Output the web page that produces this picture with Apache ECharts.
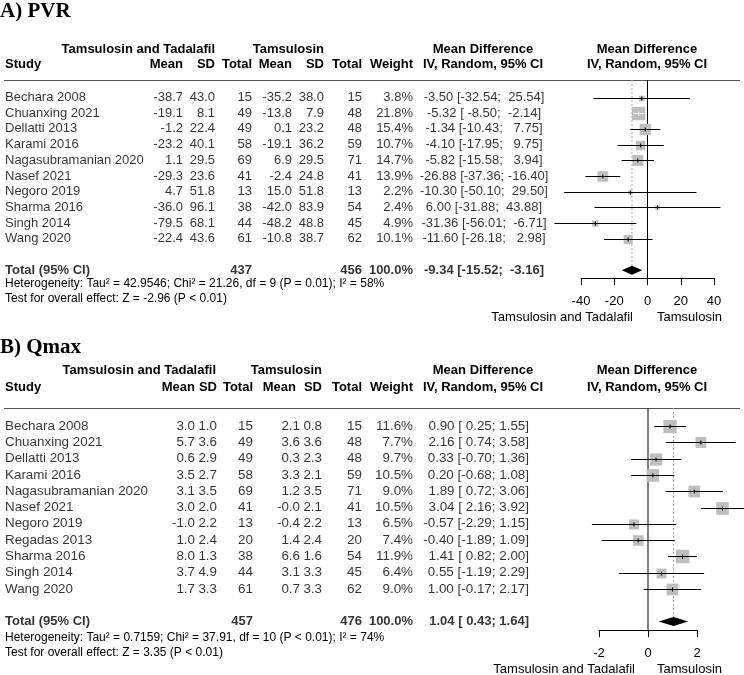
<!DOCTYPE html>
<html><head><meta charset="utf-8">
<script src="https://cdn.jsdelivr.net/npm/echarts/dist/echarts.min.js"></script>
<style>html,body{margin:0;padding:0;background:#fff}#c{width:744px;height:675px}</style>
</head><body><div id="c"></div>
<script>
// ---------- Panel A: PVR ----------
const pvrStudies = ["Bechara 2008","Chuanxing 2021","Dellatti 2013","Karami 2016","Nagasubramanian 2020","Nasef 2021","Negoro 2019","Sharma 2016","Singh 2014","Wang 2020"];
const pvrMeanT = [-38.7,-19.1,-1.2,-23.2,1.1,-29.3,4.7,-36.0,-79.5,-22.4];
const pvrSdT   = [43.0,8.1,22.4,40.1,29.5,23.6,51.8,96.1,68.1,43.6];
const pvrNT    = [15,49,49,58,69,41,13,38,44,61];
const pvrMeanC = [-35.2,-13.8,0.1,-19.1,6.9,-2.4,15.0,-42.0,-48.2,-10.8];
const pvrSdC   = [38.0,7.9,23.2,36.2,29.5,24.8,51.8,83.9,48.8,38.7];
const pvrNC    = [15,48,48,59,71,41,13,54,45,62];
const pvrWeight= [3.8,21.8,15.4,10.7,14.7,13.9,2.2,2.4,4.9,10.1];
const pvrMD    = [-3.50,-5.32,-1.34,-4.10,-5.82,-26.88,-10.30,6.00,-31.36,-11.60];
const pvrLo    = [-32.54,-8.50,-10.43,-17.95,-15.58,-37.36,-50.10,-31.88,-56.01,-26.18];
const pvrHi    = [25.54,-2.14,7.75,9.75,3.94,-16.40,29.50,43.88,-6.71,2.98];
const pvrPooled = [-9.34,-15.52,-3.16];
const pvrTotals = [437,456];
const pvrTicks = [-40,-20,0,20,40];
const pvrHet = "Heterogeneity: Tau\u00B2 = 42.9546; Chi\u00B2 = 21.26, df = 9 (P = 0.01); I\u00B2 = 58%";
const pvrTest = "Test for overall effect: Z = -2.96 (P < 0.01)";

// ---------- Panel B: Qmax ----------
const qmaxStudies = ["Bechara 2008","Chuanxing 2021","Dellatti 2013","Karami 2016","Nagasubramanian 2020","Nasef 2021","Negoro 2019","Regadas 2013","Sharma 2016","Singh 2014","Wang 2020"];
const qmaxMeanT = [3.0,5.7,0.6,3.5,3.1,3.0,-1.0,1.0,8.0,3.7,1.7];
const qmaxSdT   = [1.0,3.6,2.9,2.7,3.5,2.0,2.2,2.4,1.3,4.9,3.3];
const qmaxNT    = [15,49,49,58,69,41,13,20,38,44,61];
const qmaxMeanC = [2.1,3.6,0.3,3.3,1.2,-0.0,-0.4,1.4,6.6,3.1,0.7];
const qmaxSdC   = [0.8,3.6,2.3,2.1,3.5,2.1,2.2,2.4,1.6,3.3,3.3];
const qmaxNC    = [15,48,48,59,71,41,13,20,54,45,62];
const qmaxWeight= [11.6,7.7,9.7,10.5,9.0,10.5,6.5,7.4,11.9,6.4,9.0];
const qmaxMD    = [0.90,2.16,0.33,0.20,1.89,3.04,-0.57,-0.40,1.41,0.55,1.00];
const qmaxLo    = [0.25,0.74,-0.70,-0.68,0.72,2.16,-2.29,-1.89,0.82,-1.19,-0.17];
const qmaxHi    = [1.55,3.58,1.36,1.08,3.06,3.92,1.15,1.09,2.00,2.29,2.17];
const qmaxPooled = [1.04,0.43,1.64];
const qmaxTotals = [457,476];
const qmaxTicks = [-2,0,2];
const qmaxHet = "Heterogeneity: Tau\u00B2 = 0.7159; Chi\u00B2 = 37.91, df = 10 (P < 0.01); I\u00B2 = 74%";
const qmaxTest = "Test for overall effect: Z = 3.35 (P < 0.01)";

const FONT = '"Liberation Sans", Arial, Helvetica, sans-serif';
const SERIF = '"Liberation Serif", "Times New Roman", serif';

const panels = [
  {title:"A) PVR", studies:pvrStudies, mT:pvrMeanT, sT:pvrSdT, nT:pvrNT, mC:pvrMeanC, sC:pvrSdC, nC:pvrNC, w:pvrWeight, md:pvrMD, lo:pvrLo, hi:pvrHi, pooled:pvrPooled, totals:pvrTotals, ticks:pvrTicks, het:pvrHet, test:pvrTest,
   titleY:12, h1Y:49, h2Y:64, ruleY:80, row0:97.5, step:15.7, totalIdx:11, axisY:278, hetY:284, testY:299, axTitleY:317,
   fx0:581, fx1:714, cols:[183,215,252,292,324,362,413], hdrCols:[183,215,252,292,324,362,413], grpT:215, grpC:324,
   ciX:484, ciAlign:'center', sqMax:13.4, labL:633, labR:657, rowFont:13},
  {title:"B) Qmax", studies:qmaxStudies, mT:qmaxMeanT, sT:qmaxSdT, nT:qmaxNT, mC:qmaxMeanC, sC:qmaxSdC, nC:qmaxNC, w:qmaxWeight, md:qmaxMD, lo:qmaxLo, hi:qmaxHi, pooled:qmaxPooled, totals:qmaxTotals, ticks:qmaxTicks, het:qmaxHet, test:qmaxTest,
   titleY:348, h1Y:370, h2Y:387, ruleY:408, row0:426, step:16.3, totalIdx:12, axisY:630, hetY:638, testY:653, axTitleY:669,
   fx0:599, fx1:697, cols:[195,217,253,300,322,362,413], hdrCols:[195,217,253,296,322,362,413], grpT:216, grpC:322,
   ciX:529, ciAlign:'right', sqMax:13.5, labL:635, labR:657, rowFont:13.4}
];

function f1(v){ return Object.is(v,-0) ? "-0.0" : v.toFixed(1); }
function padTo(arr){ const s = arr.map(v=>v.toFixed(2)); const m = Math.max(...s.map(x=>x.length)); return s.map(x=>x.padStart(m,' ')); }
function ciStrings(md, lo, hi, pooled){
  const L = padTo(lo.concat([pooled[1]])), H = padTo(hi.concat([pooled[2]]));
  const all = md.concat([pooled[0]]);
  return all.map((m,i)=> m.toFixed(2) + " [" + L[i] + "; " + H[i] + "]");
}

const grids=[], xAxes=[], yAxes=[], series=[], graphics=[];

function gtext(x,y,text,align,font){
  graphics.push({type:'text', silent:true, style:{text, x, y, align, verticalAlign:'middle', textAlign:align, textVerticalAlign:'middle', font, fill:'#000'}});
}
function textSeries(gi, x, ys, texts, align, bold, fs){
  series.push({type:'scatter', xAxisIndex:gi, yAxisIndex:gi, symbolSize:0, silent:true, animation:false, clip:false, z:5,
    data: texts.map((t,i)=>({name:String(t), value:[x, ys[i]]})),
    label:{show:true, position:'inside', formatter:p=>p.name, align, verticalAlign:'middle', color:'#000', fontSize:fs, fontFamily:FONT, fontWeight: bold?'bold':'normal'},
    emphasis:{disabled:true}});
}

panels.forEach((p,k)=>{
  const gT = 2*k, gF = 2*k+1;
  const yMin = (p.ruleY - p.row0)/p.step, yMax = (p.axisY - p.row0)/p.step;
  const h = p.axisY - p.ruleY;
  const fs = p.rowFont;
  grids.push({left:0, width:744, top:p.ruleY, height:h, outerBoundsMode:'none'});
  grids.push({left:p.fx0, width:p.fx1-p.fx0, top:p.ruleY, height:h, outerBoundsMode:'none'});
  xAxes.push({gridIndex:gT, type:'value', min:0, max:744, show:false});
  yAxes.push({gridIndex:gT, type:'value', min:yMin, max:yMax, inverse:true, show:false});
  const tk = p.ticks;
  xAxes.push({gridIndex:gF, type:'value', min:tk[0], max:tk[tk.length-1], interval:tk[1]-tk[0], position:'bottom',
    axisLine:{show:true, onZero:false, lineStyle:{color:'#000', width:1}},
    axisTick:{show:true, inside:false, length:7, lineStyle:{color:'#000', width:1}},
    axisLabel:{show:true, color:'#000', fontSize:13, fontFamily:FONT, margin:17, showMinLabel:true, showMaxLabel:true},
    splitLine:{show:false}});
  yAxes.push({gridIndex:gF, type:'value', min:yMin, max:yMax, inverse:true, show:false});

  const n = p.studies.length;
  const rows = p.studies.map((_,i)=>i);
  textSeries(gT, 5, rows, p.studies, 'left', false, fs);
  textSeries(gT, p.cols[0], rows, p.mT.map(f1), 'right', false, fs);
  textSeries(gT, p.cols[1], rows, p.sT.map(f1), 'right', false, fs);
  textSeries(gT, p.cols[2], rows, p.nT.map(String), 'right', false, fs);
  textSeries(gT, p.cols[3], rows, p.mC.map(f1), 'right', false, fs);
  textSeries(gT, p.cols[4], rows, p.sC.map(f1), 'right', false, fs);
  textSeries(gT, p.cols[5], rows, p.nC.map(String), 'right', false, fs);
  textSeries(gT, p.cols[6], rows, p.w.map(v=>v.toFixed(1)+'%'), 'right', false, fs);
  const ci = ciStrings(p.md, p.lo, p.hi, p.pooled);
  textSeries(gT, p.ciX, rows, ci.slice(0,n), p.ciAlign, false, fs);
  const tr = [p.totalIdx];
  textSeries(gT, 5, tr, ["Total (95% CI)"], 'left', true, 13);
  textSeries(gT, p.cols[2], tr, [String(p.totals[0])], 'right', true, 13);
  textSeries(gT, p.cols[5], tr, [String(p.totals[1])], 'right', true, 13);
  textSeries(gT, p.cols[6], tr, ["100.0%"], 'right', true, 13);
  textSeries(gT, p.ciX, tr, [ci[n]], p.ciAlign, true, 13);

  series.push({type:'line', xAxisIndex:gF, yAxisIndex:gF, data:[[0,yMin],[0,yMax]], symbol:'none', silent:true, animation:false, z:1,
    lineStyle:{color:'#000', width:1}});
  series.push({type:'line', xAxisIndex:gF, yAxisIndex:gF, data:[[p.pooled[0],yMin],[p.pooled[0],p.totalIdx]], symbol:'none', silent:true, animation:false, z:1,
    lineStyle:{color:'#b0b0b0', width:1, type:[2,2]}});

  const maxW = Math.max(...p.w);
  series.push({type:'custom', xAxisIndex:gF, yAxisIndex:gF, silent:true, animation:false, clip:false, z:3,
    data: p.md.map((m,i)=>[m, p.lo[i], p.hi[i], i, p.w[i]]),
    renderItem:(params, api)=>{
      const c = api.coord([api.value(0), api.value(3)]);
      const cl = api.coord([api.value(1), api.value(3)]);
      const ch = api.coord([api.value(2), api.value(3)]);
      const s = p.sqMax*Math.sqrt(api.value(4)/maxW);
      const yy = Math.round(c[1]) + 0.5;
      const inside = (ch[0]-cl[0]) < s;
      const col = inside ? '#ffffff' : '#000000';
      return {type:'group', children:[
        {type:'rect', shape:{x:c[0]-s/2, y:yy-s/2, width:s, height:s}, style:{fill:'#bebebe'}},
        {type:'line', shape:{x1:cl[0], y1:yy, x2:ch[0], y2:yy}, style:{stroke:col, lineWidth:1}},
        {type:'line', shape:{x1:c[0], y1:yy-2, x2:c[0], y2:yy+2}, style:{stroke:col, lineWidth:1}}
      ]};
    }});
  series.push({type:'custom', xAxisIndex:gF, yAxisIndex:gF, silent:true, animation:false, clip:false, z:4,
    data:[[p.pooled[0], p.pooled[1], p.pooled[2], p.totalIdx]],
    renderItem:(params, api)=>{
      const c = api.coord([api.value(0), api.value(3)]);
      const l = api.coord([api.value(1), api.value(3)]);
      const r = api.coord([api.value(2), api.value(3)]);
      const hh = 4.5;
      return {type:'polygon', shape:{points:[[l[0],c[1]],[c[0],c[1]-hh],[r[0],c[1]],[c[0],c[1]+hh]]}, style:{fill:'#000'}};
    }});

  gtext(0, p.titleY, p.title, 'left', 'bold 21px ' + SERIF);
  const B13 = 'bold 13px ' + FONT, R13 = '13px ' + FONT, R12 = '12px ' + FONT;
  gtext(p.grpT, p.h1Y, "Tamsulosin and Tadalafil", 'right', B13);
  gtext(p.grpC, p.h1Y, "Tamsulosin", 'right', B13);
  gtext(483, p.h1Y, "Mean Difference", 'center', B13);
  gtext(647, p.h1Y, "Mean Difference", 'center', B13);
  gtext(5, p.h2Y, "Study", 'left', B13);
  ["Mean","SD","Total","Mean","SD","Total","Weight"].forEach((t,j)=>gtext(p.hdrCols[j], p.h2Y, t, 'right', B13));
  gtext(483, p.h2Y, "IV, Random, 95% CI", 'center', B13);
  gtext(647, p.h2Y, "IV, Random, 95% CI", 'center', B13);
  graphics.push({type:'line', silent:true, shape:{x1:4, y1:p.ruleY+0.5, x2:740, y2:p.ruleY+0.5}, style:{stroke:'#555', lineWidth:1}});
  gtext(5, p.hetY, p.het, 'left', R12);
  gtext(5, p.testY, p.test, 'left', R12);
  gtext(p.labL, p.axTitleY, "Tamsulosin and Tadalafil", 'right', R13);
  gtext(p.labR, p.axTitleY, "Tamsulosin", 'left', R13);
});

const chart = echarts.init(document.getElementById('c'), null, {renderer:'canvas'});
chart.setOption({
  animation:false,
  backgroundColor:'#ffffff',
  grid:grids, xAxis:xAxes, yAxis:yAxes, series, graphic:graphics
});
</script></body></html>
